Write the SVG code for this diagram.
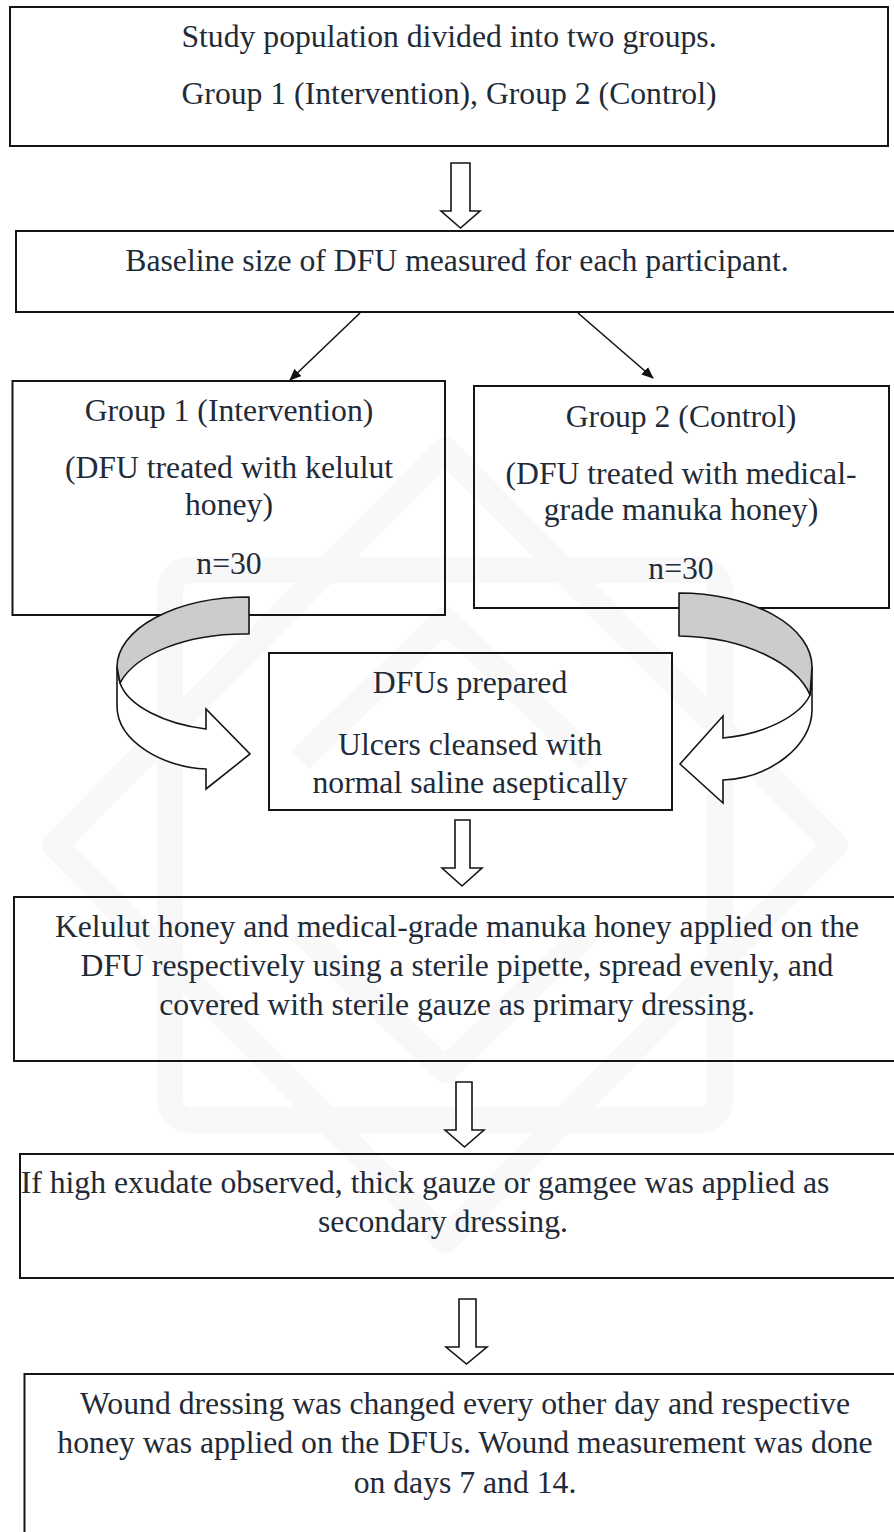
<svg xmlns="http://www.w3.org/2000/svg" width="894" height="1532" viewBox="0 0 894 1532">
  <defs>
    <style>
      .box { fill: none; stroke: #151515; stroke-width: 2; }
      .lbl { font-family: "Liberation Serif", "Times New Roman", serif; font-size: 31.7px; fill: #1f2b38; text-anchor: middle; }
      .block { fill: #ffffff; stroke: #151515; stroke-width: 1.6; stroke-linejoin: miter; }
      .back { fill: #cccccc; stroke: #151515; stroke-width: 1.6; stroke-linejoin: round; }
      .front { fill: #ffffff; stroke: #151515; stroke-width: 1.6; stroke-linejoin: miter; }
      .line { stroke: #151515; stroke-width: 1.6; fill: none; }
      .mark { fill: none; stroke: #f8f8f8; stroke-width: 26; stroke-linejoin: round; }
    </style>
    <marker id="head" viewBox="0 0 12 10" refX="11" refY="5" markerWidth="12" markerHeight="10" markerUnits="userSpaceOnUse" orient="auto">
      <path d="M0,0 L12,5 L0,10 Z" fill="#111111"/>
    </marker>
  </defs>

  <rect width="894" height="1532" fill="#ffffff"/>

  <!-- faint background emblem -->
  <g id="emblem">
    <path class="mark" d="M445,450 L835,845 L445,1240 L55,845 Z"/>
    <rect class="mark" x="170" y="570" width="550" height="550" rx="20"/>
    <path class="mark" d="M300,760 L445,620 L590,760"/>
    <path class="mark" d="M300,930 L445,1070 L590,930"/>
  </g>

  <!-- study population -->
  <g id="node-population">
    <rect class="box" x="10" y="7" width="878" height="139"/>
    <text class="lbl" x="449" y="47">Study population divided into two groups.</text>
    <text class="lbl" x="449" y="104">Group 1 (Intervention), Group 2 (Control)</text>
  </g>

  <!-- baseline measurement -->
  <g id="node-baseline">
    <rect class="box" x="16" y="231" width="900" height="81"/>
    <text class="lbl" x="457" y="271">Baseline size of DFU measured for each participant.</text>
  </g>

  <!-- group 1 -->
  <g id="node-group1">
    <rect class="box" x="12.5" y="381" width="432.5" height="234"/>
    <text class="lbl" x="229" y="421">Group 1 (Intervention)</text>
    <text class="lbl" x="229" y="478">(DFU treated with kelulut</text>
    <text class="lbl" x="229" y="515">honey)</text>
    <text class="lbl" x="229" y="574">n=30</text>
  </g>

  <!-- group 2 -->
  <g id="node-group2">
    <rect class="box" x="474" y="386" width="415" height="222"/>
    <text class="lbl" x="681" y="427">Group 2 (Control)</text>
    <text class="lbl" x="681" y="484">(DFU treated with medical-</text>
    <text class="lbl" x="681" y="520">grade manuka honey)</text>
    <text class="lbl" x="681" y="579">n=30</text>
  </g>

  <!-- ulcer preparation -->
  <g id="node-prepare">
    <rect class="box" x="269" y="653" width="403" height="157"/>
    <text class="lbl" x="470" y="693">DFUs prepared</text>
    <text class="lbl" x="470" y="755">Ulcers cleansed with</text>
    <text class="lbl" x="470" y="793">normal saline aseptically</text>
  </g>

  <!-- honey application -->
  <g id="node-apply">
    <rect class="box" x="14" y="897" width="900" height="164"/>
    <text class="lbl" x="457" y="937">Kelulut honey and medical-grade manuka honey applied on the</text>
    <text class="lbl" x="457" y="976">DFU respectively using a sterile pipette, spread evenly, and</text>
    <text class="lbl" x="457" y="1015">covered with sterile gauze as primary dressing.</text>
  </g>

  <!-- secondary dressing -->
  <g id="node-secondary">
    <rect class="box" x="20" y="1154" width="900" height="124"/>
    <text class="lbl" x="425" y="1193">If high exudate observed, thick gauze or gamgee was applied as</text>
    <text class="lbl" x="443" y="1232">secondary dressing.</text>
  </g>

  <!-- follow-up -->
  <g id="node-followup">
    <rect class="box" x="24.5" y="1374" width="900" height="200"/>
    <text class="lbl" x="465" y="1414">Wound dressing was changed every other day and respective</text>
    <text class="lbl" x="465" y="1453">honey was applied on the DFUs. Wound measurement was done</text>
    <text class="lbl" x="465" y="1493">on days 7 and 14.</text>
  </g>

  <!-- connectors -->
  <g id="connectors">
    <!-- hollow block arrows -->
    <path class="block" d="M451,163 H470 V211 H480 L460.5,228 L441,211 H451 Z"/>
    <path class="block" d="M455,820 H470 V868 H482 L462,886 L442,868 H455 Z"/>
    <path class="block" d="M456,1082 H472 V1130 H484 L464.5,1147 L445,1130 H456 Z"/>
    <path class="block" d="M459,1299 H476 V1347 H487 L466.5,1364 L446,1347 H459 Z"/>

    <!-- split to the two groups -->
    <line class="line" x1="360" y1="313" x2="290" y2="380" marker-end="url(#head)"/>
    <line class="line" x1="578" y1="313" x2="653" y2="378" marker-end="url(#head)"/>

    <!-- curved arrows into the preparation step -->
    <path class="front" d="M117,667 L117,706 C117,742 165,768 206,769 L206,789 L250,754 L206,709 L206,729 C165,724 128,706 120,683 Z"/>
    <path class="back" d="M249,597 A132,70 0 0 0 117,667 L120,683 C135,655 185,633 249,634 Z"/>

    <path class="front" d="M812,667 L812,710 C812,746 770,778 723,780 L723,803 L680,764 L723,716 L723,738 C765,734 800,716 810,695 Z"/>
    <path class="back" d="M679,593 A133,74 0 0 1 812,667 L810,695 C797,664 745,637 679,636 Z"/>
  </g>
</svg>
